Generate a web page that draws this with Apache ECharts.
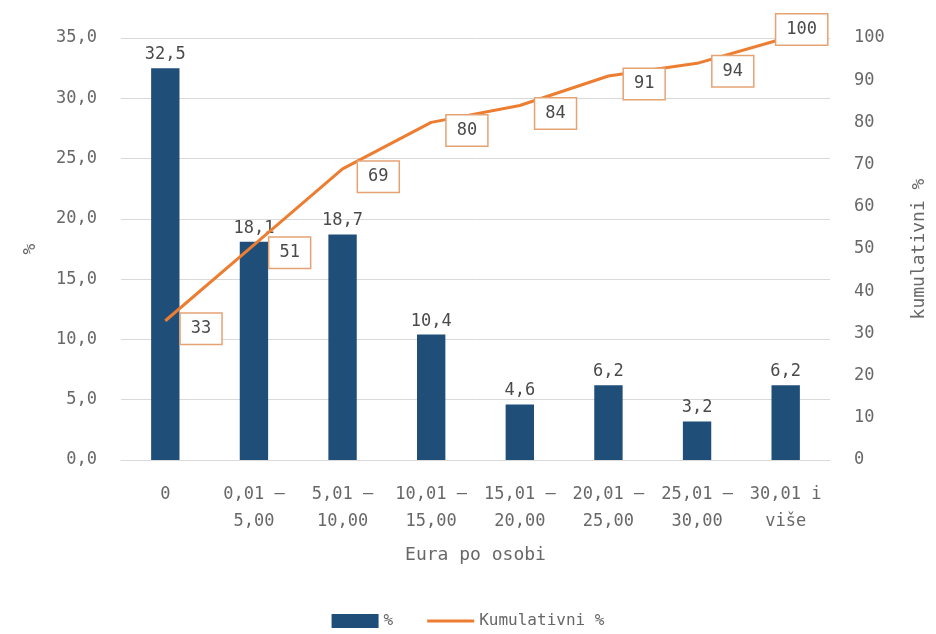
<!DOCTYPE html>
<html>
<head>
<meta charset="utf-8">
<script src="https://cdn.jsdelivr.net/npm/echarts@6/dist/echarts.min.js"></script>
<style>
html, body { margin: 0; padding: 0; background: #fff; }
#chart { width: 936px; height: 634px; }
</style>
</head>
<body>
<div id="chart"></div>
<script>
var categories = ['0', '0,01 –\n5,00', '5,01 –\n10,00', '10,01 –\n15,00', '15,01 –\n20,00',
    '20,01 –\n25,00', '25,01 –\n30,00', '30,01 i\nviše'];
var percent = [32.5, 18.1, 18.7, 10.4, 4.6, 6.2, 3.2, 6.2];
var cumulative = [33, 51, 69, 80, 84, 91, 94, 100];

var textColor = '#686868';
var labelColor = '#4a4a4a';
var fontFamily = 'DejaVu Sans Mono';
var fmt = function (v) { return v.toFixed(1).replace('.', ','); };

var myChart = echarts.init(document.getElementById('chart'));

var lineData = cumulative.map(function (v, i) {
    var item = { value: v };
    if (i === cumulative.length - 1) {
        item.label = { position: 'top', offset: [16, 12] };
    }
    return item;
});

option = {
    backgroundColor: '#fff',
    textStyle: { fontFamily: fontFamily, color: textColor },
    grid: { left: 121, right: 106, top: 38, bottom: 174 },
    legend: {
        bottom: 0,
        left: 'center',
        itemWidth: 47,
        itemHeight: 14,
        itemGap: 34,
        textStyle: { fontSize: 16, color: textColor, fontFamily: fontFamily },
        data: [
            { name: '%', icon: 'rect' },
            { name: 'Kumulativni %', icon: 'path://M0,0H48V3H0Z' }
        ]
    },
    xAxis: {
        type: 'category',
        data: categories,
        name: 'Eura po osobi',
        nameLocation: 'middle',
        nameGap: 86,
        nameTextStyle: { fontSize: 18, color: textColor, fontFamily: fontFamily },
        axisLine: { lineStyle: { color: '#d9d9d9' } },
        axisTick: { show: false },
        axisLabel: { fontSize: 17, color: textColor, lineHeight: 27, margin: 21, interval: 0 }
    },
    yAxis: [
        {
            type: 'value',
            min: 0,
            max: 35,
            interval: 5,
            name: '%',
            nameLocation: 'middle',
            nameGap: 82,
            nameRotate: 90,
            nameTextStyle: { fontSize: 18, color: textColor, fontFamily: fontFamily },
            axisLabel: { fontSize: 17, color: textColor, margin: 24, formatter: fmt },
            splitLine: { lineStyle: { color: '#d9d9d9' } }
        },
        {
            type: 'value',
            min: 0,
            max: 100,
            interval: 10,
            name: 'kumulativni %',
            nameLocation: 'middle',
            nameGap: 80,
            nameRotate: 90,
            nameTextStyle: { fontSize: 18, color: textColor, fontFamily: fontFamily },
            axisLabel: { fontSize: 17, color: textColor, margin: 24 },
            splitLine: { show: false }
        }
    ],
    series: [
        {
            name: '%',
            type: 'bar',
            data: percent,
            barWidth: '32%',
            itemStyle: { color: '#1f4e79' },
            label: {
                show: true,
                position: 'top',
                distance: 5,
                fontSize: 17,
                color: labelColor,
                fontFamily: fontFamily,
                formatter: function (p) { return fmt(p.value); }
            }
        },
        {
            name: 'Kumulativni %',
            type: 'line',
            yAxisIndex: 1,
            data: lineData,
            symbol: 'circle',
            symbolSize: 1,
            showSymbol: true,
            lineStyle: { color: '#ed7d31', width: 3 },
            itemStyle: { color: '#ed7d31' },
            label: {
                show: true,
                position: 'right',
                distance: 5,
                offset: [10, 8],
                fontSize: 17,
                color: labelColor,
                fontFamily: fontFamily,
                backgroundColor: '#fff',
                borderColor: '#e5a373',
                borderWidth: 1.5,
                padding: [7, 10, 6, 10]
            },
            z: 5
        }
    ]
};

myChart.setOption(option);
</script>
</body>
</html>
